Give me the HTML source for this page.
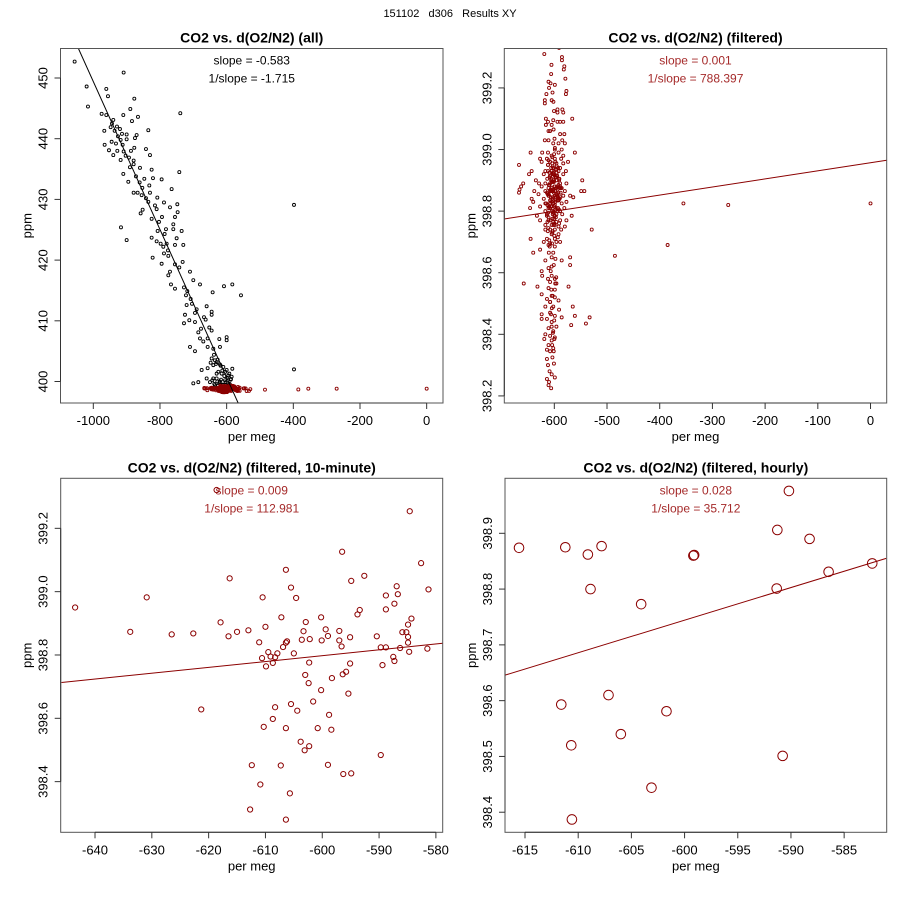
<!DOCTYPE html>
<html><head><meta charset="utf-8"><style>
html,body{margin:0;padding:0;background:#fff;}
svg{display:block;font-family:"Liberation Sans",Arial,sans-serif;}
</style></head><body>
<svg id="chart" width="900" height="900" viewBox="0 0 900 900" xmlns="http://www.w3.org/2000/svg">
<rect width="900" height="900" fill="#fff"/>
<text x="450" y="17" font-size="11" text-anchor="middle" fill="#000" xml:space="preserve">151102   d306   Results XY</text>
</svg>
<script>
// ---------- Panel 1 (all data, black) ----------
const allX = [-1056,-909,-1020,-961,-956,-1016,-877,-889,-975,-961,-910,-866,-884,-940,-944,-929,-967,-936,-920,-835,-914,-900,-870,-918,-900,-875,-945,-966,-912,-877,-842,-953,-928,-909,-887,-940,-830,-918,-879,-879,-890,-860,-825,-742,-910,-872,-847,-821,-795,-895,-739,-832,-879,-867,-855,-830,-765,-842,-808,-835,-788,-770,-748,-852,-810,-858,-747,-825,-794,-755,-760,-760,-917,-807,-782,-735,-900,-825,-810,-798,-780,-750,-755,-730,-790,-788,-775,-822,-795,-755,-732,-770,-775,-710,-700,-680,-767,-755,-728,-608,-583,-642,-557,-722,-708,-720,-660,-645,-695,-725,-645,-712,-695,-728,-663,-677,-645,-685,-680,-657,-670,-622,-600,-710,-657,-695,-640,-620,-600,-645,-635,-630,-640,-620,-610,-657,-583,-600,-675,-630,-615,-595,-585,-700,-685,-660,-630,-620,-605,-398,-398,-640,
-926,-948,-903,-893,-932,-861,-853,-815,-803,-786,-776,-742,-718,-704,-690,-668,-652,-648,-638,-632,-627,-625,-618,-613,-607,-604,-598,-592,-588,-650,-643,-637,-628,-622,-617,-612,-603,-596,-591,-587,-635,-626,-619,-611,-602,-594,-589];
const allY = [452.7,450.9,448.6,448.2,447.0,445.3,446.6,444.9,444.1,443.9,443.9,443.6,442.9,443.1,442.5,442.0,441.3,441.3,441.6,441.4,440.8,440.7,440.6,439.8,439.9,440.1,439.5,439.0,439.0,438.5,438.3,438.1,438.0,437.9,438.0,437.3,437.3,436.5,436.4,435.8,435.3,435.2,434.9,434.5,434.2,433.8,433.4,433.5,433.3,432.9,444.2,432.3,431.1,431.1,430.7,431.1,431.7,430.2,430.3,429.6,429.5,428.7,429.2,428.3,428.4,427.7,427.9,426.8,427.1,427.1,425.9,425.1,425.4,424.8,425.1,424.8,423.3,423.7,423.1,422.7,422.7,423.6,422.5,422.5,422.2,421.1,420.7,420.4,419.4,419.3,419.7,418.1,417.5,418.1,416.7,416.0,416.0,415.3,415.5,415.7,416.0,414.7,414.2,414.2,413.6,412.6,412.4,411.5,411.3,411.0,411.0,410.1,409.8,409.6,410.2,408.7,408.4,408.1,407.1,407.1,406.6,407.0,407.3,405.7,405.7,405.0,405.4,405.7,406.8,403.8,403.5,403.2,402.7,402.8,402.4,402.2,402.1,401.9,401.9,401.3,401.3,401.0,400.8,399.7,399.9,400.5,400.5,400.0,400.2,429.1,402.0,400.5,
440.4,441.9,437.2,436.9,439.2,432.8,431.9,429.0,426.3,424.3,421.6,418.8,414.9,412.8,411.9,410.6,408.9,403.1,404.4,402.9,403.6,401.6,402.6,401.8,400.9,401.6,400.6,401.3,400.3,399.9,400.2,399.6,400.0,399.8,400.3,399.5,399.9,399.7,399.6,400.4,399.4,399.3,399.5,399.4,399.5,399.3,399.4];
const p1LineX = [-1045,-565];
const p1LineY = [454.9,396.4];
const p1XTicks = [-1000,-800,-600,-400,-200,0];
const p1YTicks = [400,410,420,430,440,450];

// ---------- Panel 2 (filtered) ----------
const filtX = [-591,-619,-585.5,-585.5,-581,-582,-611,-599,-579,-610,-577,-578,-615,-618,-605,-618,-594,-584.7,-594,-583,-616,-612,-594,-566,-589,-583,-616,-605,-608,-611,-589,-581,-618,-611,-602,-592,-585,-580,-645,-599,-586,-561,-623,-612,-605,-592,-583,-627,-614,-599,-587,-667,-624,-608,-596,-583,-574,-612,-602,-589,-643,-617,-605,-592,-578,-648,-620,-608,-596,-583,-635,-547,-629,-617,-602,-589,-577,-659,-663,-624,-611,-599,-586,-666,-638,-617,-605,-592,-580,-667,-630,-611,-599,-583,-570,-549,-543,-643,-620,-608,-592,-577,-564,-640,-617,-602,-586,-627,-611,-596,-581,-646,-617,-605,-589,-614,-599,-585,-567,-633,-627,-611,-602,-589,-577,-617,-605,-592,-580,-608,-599,-587,-529,-617,-605,-592,-614,-599,-645,-589,-620,-608,-611,-599,-627,-640,-602,-485,-605,-586,-570,-617,-605,-611,-570,-624,-623,-605,-599,-612,-608,-596,-658,-632,-573,-611,-599,-624,-605,-599,-614,-608,-592,-602,-565,-617,-591,-608,-624,-599,-586,-561,-533,-624,-614,-605,-540,-568,-611,-596,-602,-617,-608,-599,-619,-605,-611,-602,-614,-608,-614,-612,-609,-605,-599,-614,-610,-611,-606,-385,-355,-270,0,
-612,-609,-606,-603,-600,-597,-594,-591,-588,-614,-610,-607,-604,-601,-598,-595,-592,-589,-613,-608,-605,-602,-599,-596,-593,-590,-611,-607,-603,-600,-597,-594,-591,-612,-606,-601,-598,-595,-593,-604,-600,-596,-608,-603,-598,-594,
-613.4,-610.2,-607.7,-604.9,-601.3,-598.6,-595.8,-593.1,-590.4,-587.9,-612.6,-609.3,-606.1,-603.7,-600.8,-597.4,-594.6,-591.9,-588.7,-615.2,-611.8,-608.5,-605.6,-602.7,-599.5,-596.9,-593.8,-590.9,-614.1,-610.7,-607.3,-604.2,-601.9,-598.1,-595.2,-592.4,-589.6,-613.0,-609.8,-606.6,-603.3,-600.1,-597.7,-594.0,-591.3,-611.4,-608.0,-605.1,-602.2,-599.0,-596.2,-593.5,-612.2,-609.0,-605.9,-603.0,-599.8,-596.6,-593.3,-610.9,-607.5,-604.6,-601.6,-598.4,-595.5,-609.6,-606.4,-603.5,-600.4,-597.2,-608.8,-605.3,-602.5,-599.3,-596.0,-610.4,-607.1,-604.0,-600.9,-597.9,-603.8,-601.0,-598.9,-606.8,-602.9,-599.6,-596.4,-604.4,-601.4,-598.2,-605.7,-602.0,-603.1,-600.6,-607.9,-604.7,-601.7,-606.3,-603.4,-600.2,-605.0,-602.6,-599.9,-607.2,-604.1,-601.1,-606.0,-603.6,-600.7,-605.4];
const filtY = [399.33,399.31,399.30,399.29,399.27,399.26,399.22,399.21,399.23,399.20,399.19,399.18,399.18,399.16,399.16,399.15,399.13,399.13,399.12,399.12,399.10,399.09,399.09,399.10,399.09,399.09,399.08,399.08,399.06,399.06,399.05,399.05,399.03,399.03,399.02,399.02,399.03,399.02,398.99,399.00,399.00,398.99,398.99,398.99,398.98,398.99,398.98,398.97,398.97,398.97,398.97,398.95,398.96,398.96,398.955,398.955,398.96,398.95,398.94,398.94,398.93,398.93,398.93,398.93,398.93,398.92,398.92,398.915,398.915,398.92,398.90,398.90,398.89,398.89,398.90,398.89,398.89,398.89,398.88,398.88,398.875,398.88,398.875,398.87,398.865,398.865,398.865,398.86,398.865,398.86,398.855,398.85,398.85,398.85,398.85,398.865,398.865,398.84,398.84,398.835,398.835,398.83,398.845,398.83,398.825,398.825,398.825,398.815,398.81,398.81,398.81,398.81,398.80,398.80,398.80,398.79,398.785,398.79,398.785,398.785,398.77,398.77,398.765,398.77,398.77,398.755,398.755,398.75,398.75,398.74,398.74,398.74,398.74,398.74,398.725,398.725,398.71,398.71,398.71,398.70,398.70,398.695,398.69,398.685,398.675,398.665,398.665,398.655,398.65,398.64,398.65,398.64,398.62,398.615,398.625,398.605,398.59,398.59,398.58,398.58,398.57,398.565,398.565,398.555,398.555,398.55,398.545,398.53,398.525,398.52,398.515,398.505,398.51,398.49,398.49,398.49,398.48,398.47,398.465,398.46,398.455,398.46,398.455,398.45,398.45,398.44,398.435,398.43,398.42,398.425,398.41,398.40,398.395,398.39,398.385,398.38,398.365,398.355,398.35,398.345,398.32,398.30,398.28,398.27,398.26,398.255,398.245,398.235,398.225,398.69,398.825,398.82,398.825,
398.93,398.91,398.90,398.92,398.88,398.91,398.87,398.90,398.86,398.86,398.85,398.87,398.84,398.86,398.83,398.85,398.84,398.88,398.82,398.81,398.83,398.80,398.82,398.79,398.81,398.84,398.78,398.77,398.79,398.76,398.78,398.80,398.76,398.95,398.94,398.92,398.96,398.90,398.94,398.73,398.72,398.70,398.89,398.87,398.91,398.88,
398.905,398.885,398.915,398.875,398.895,398.865,398.935,398.845,398.905,398.875,398.855,398.925,398.815,398.865,398.895,398.835,398.915,398.885,398.845,398.825,398.795,398.865,398.905,398.845,398.815,398.875,398.835,398.905,398.785,398.855,398.825,398.895,398.865,398.805,398.945,398.835,398.875,398.765,398.815,398.845,398.895,398.775,398.935,398.855,398.805,398.745,398.825,398.865,398.795,398.915,398.765,398.835,398.735,398.885,398.815,398.945,398.785,398.855,398.715,398.965,398.835,398.895,398.755,398.805,398.925,398.705,398.865,398.775,398.985,398.845,398.685,398.815,398.925,398.755,398.875,398.665,398.835,398.955,398.795,398.645,398.975,398.625,399.005,398.605,398.735,399.035,398.585,398.695,399.065,398.565,398.545,399.095,398.525,399.125,398.505,398.485,399.155,398.465,399.185,398.445,398.425,398.405,398.385,399.215,398.365,398.345,399.245,398.325,398.305,399.275];
const p2LineX = [-693.7,30.7];
const p2LineY = [398.775,398.965];
const p2XTicks = [-600,-500,-400,-300,-200,-100,0];
const p2YTicks = [398.2,398.4,398.6,398.8,399.0,399.2];

// ---------- Panel 3 (10-minute) ----------
const tenX = [-643.5,-633.8,-630.9,-626.5,-622.7,-621.3,-617.9,-616.3,-616.5,-615.0,-613.0,-611.1,-610.5,-610.0,-610.6,-609.9,-609.5,-609.1,-608.7,-608.3,-607.9,-607.2,-606.9,-606.4,-606.2,-606.4,-605.5,-604.6,-605.0,-603.6,-603.3,-602.9,-602.2,-602.3,-603.0,-602.4,-600.2,-600.1,-599.4,-599.0,-600.2,-601.6,-604.4,-605.5,-608.3,-608.7,-610.3,-606.4,-600.8,-598.8,-598.4,-598.3,-597.0,-597.0,-596.6,-596.5,-594.9,-595.1,-595.1,-595.8,-596.4,-595.4,-593.8,-593.4,-592.6,-590.4,-589.7,-588.8,-589.4,-588.8,-588.8,-587.3,-586.9,-586.7,-587.5,-587.3,-586.3,-585.9,-585.2,-584.9,-584.3,-584.9,-584.9,-584.7,-582.6,-581.3,-581.5,-584.6,-589.7,-603.8,-603.1,-602.3,-599.0,-596.3,-594.9,-607.3,-612.4,-610.9,-605.7,-612.7,-606.4,-618.6];
const tenY = [398.95,398.873,398.982,398.865,398.868,398.628,398.903,399.042,398.859,398.873,398.878,398.84,398.982,398.889,398.79,398.764,398.809,398.795,398.775,398.793,398.805,398.919,398.825,398.839,398.843,399.069,399.013,398.98,398.805,398.848,398.875,398.904,398.85,398.776,398.737,398.711,398.919,398.846,398.881,398.86,398.689,398.653,398.624,398.645,398.635,398.598,398.573,398.569,398.569,398.611,398.564,398.727,398.876,398.846,398.827,399.126,399.034,398.856,398.773,398.747,398.739,398.678,398.928,398.942,399.05,398.859,398.824,398.824,398.768,398.988,398.944,398.962,399.017,398.992,398.794,398.781,398.822,398.872,398.872,398.896,398.915,398.857,398.839,398.81,399.09,399.007,398.82,399.254,398.484,398.526,398.499,398.512,398.453,398.424,398.426,398.451,398.452,398.391,398.363,398.312,398.28,399.321];
const p3LineX = [-645.9,-578.8];
const p3LineY = [398.713,398.837];
const p3XTicks = [-640,-630,-620,-610,-600,-590,-580];
const p3YTicks = [398.4,398.6,398.8,399.0,399.2];

// ---------- Panel 4 (hourly) ----------
const hourX = [-615.56,-611.21,-609.09,-607.80,-608.84,-604.08,-599.10,-599.17,-591.28,-590.19,-588.25,-591.34,-586.46,-582.36,-611.59,-607.15,-601.70,-610.65,-605.99,-590.78,-603.11,-610.59];
const hourY = [398.874,398.875,398.862,398.877,398.800,398.773,398.861,398.860,398.906,398.976,398.890,398.801,398.831,398.846,398.593,398.610,398.581,398.520,398.540,398.501,398.444,398.387];
const p4LineX = [-617,-581.05];
const p4LineY = [398.645,398.855];
const p4XTicks = [-615,-610,-605,-600,-595,-590,-585];
const p4YTicks = [398.4,398.5,398.6,398.7,398.8,398.9];

const NS = 'http://www.w3.org/2000/svg';
const svg = document.getElementById('chart');
function mk(tag, attrs, parent) {
  const e = document.createElementNS(NS, tag);
  for (const k in attrs) e.setAttribute(k, attrs[k]);
  (parent || svg).appendChild(e);
  return e;
}
const RED = '#8b0000', TXT = '#a52a2a';

function panel(cfg) {
  const g = mk('g', {});
  
  
  const sx = v => cfg.L + (v - cfg.x0) / (cfg.x1 - cfg.x0) * (cfg.R - cfg.L);
  const sy = v => cfg.B - (v - cfg.y0) / (cfg.y1 - cfg.y0) * (cfg.B - cfg.T);
  const cid = 'clip-' + cfg.name;
  const cp = mk('clipPath', {id: cid}, g);
  mk('rect', {x: cfg.L, y: cfg.T, width: cfg.R - cfg.L, height: cfg.B - cfg.T}, cp);
  const t = mk('text', {x: (cfg.L + cfg.R) / 2, y: cfg.T - 6, 'font-size': 14, 'font-weight': 'bold', 'text-anchor': 'middle'}, g);
  t.textContent = cfg.title;
  
  
  const s1 = mk('text', {x: (cfg.L + cfg.R) / 2, y: cfg.T + 16, 'font-size': 12, 'text-anchor': 'middle', fill: cfg.txt}, g);
  s1.textContent = cfg.s1;
  
  
  const s2 = mk('text', {x: (cfg.L + cfg.R) / 2, y: cfg.T + 34, 'font-size': 12, 'text-anchor': 'middle', fill: cfg.txt}, g);
  s2.textContent = cfg.s2;
  
  
  const pts = mk('g', {'clip-path': 'url(#' + cid + ')', fill: 'none'}, g);
  
  
  cfg.series.forEach(se => {
    for (let i = 0; i < se.x.length; i++) {
      const c = mk('circle', {cx: sx(se.x[i]).toFixed(2), cy: sy(se.y[i]).toFixed(2), r: cfg.r, stroke: se.color, 'stroke-width': cfg.sw}, pts);
      
      
    }
  });
  const ln = mk('line', {x1: sx(cfg.lx[0]), y1: sy(cfg.ly[0]), x2: sx(cfg.lx[1]), y2: sy(cfg.ly[1]), stroke: cfg.lineColor, 'stroke-width': 1, 'clip-path': 'url(#' + cid + ')'}, g);
  
  
  const bx = mk('rect', {x: cfg.L, y: cfg.T, width: cfg.R - cfg.L, height: cfg.B - cfg.T, fill: 'none', stroke: '#555', 'stroke-width': 1}, g);
  
  
  const xa = mk('g', {}, g);
  
  
  cfg.xt.forEach(v => {
    const x = sx(v);
    mk('line', {x1: x, y1: cfg.B, x2: x, y2: cfg.B + 6, stroke: '#333'}, xa);
    const tl = mk('text', {x: x, y: cfg.B + 22, 'font-size': 13, 'text-anchor': 'middle'}, xa);
    tl.textContent = String(v);
    
    
  });
  mk('line', {x1: sx(cfg.xt[0]), y1: cfg.B, x2: sx(cfg.xt[cfg.xt.length - 1]), y2: cfg.B, stroke: '#333'}, xa);
  const xl = mk('text', {x: (cfg.L + cfg.R) / 2, y: cfg.B + 38, 'font-size': 13, 'text-anchor': 'middle'}, g);
  xl.textContent = 'per meg';
  
  
  const ya = mk('g', {}, g);
  
  
  cfg.yt.forEach(v => {
    const y = sy(v);
    mk('line', {x1: cfg.L, y1: y, x2: cfg.L - 6, y2: y, stroke: '#333'}, ya);
    const tl = mk('text', {x: 0, y: 0, 'font-size': 13, 'text-anchor': 'middle', transform: 'translate(' + (cfg.L - 13) + ',' + y + ') rotate(-90)'}, ya);
    tl.textContent = cfg.yfmt(v);
    
    
  });
  mk('line', {x1: cfg.L, y1: sy(cfg.yt[0]), x2: cfg.L, y2: sy(cfg.yt[cfg.yt.length - 1]), stroke: '#333'}, ya);
  const yl = mk('text', {x: 0, y: 0, 'font-size': 13, 'text-anchor': 'middle', transform: 'translate(' + (cfg.L - 29) + ',' + ((cfg.T + cfg.B) / 2) + ') rotate(-90)'}, g);
  yl.textContent = 'ppm';
  
  
}

panel({name: 'panel-all', title: 'CO2 vs. d(O2/N2) (all)', s1: 'slope = -0.583', s2: '1/slope = -1.715', txt: '#000',
  L: 60.5, R: 443, T: 48.5, B: 403, x0: -1098.4, x1: 49, y0: 396.46, y1: 454.86, r: 1.5, sw: 0.9,
  series: [{x: allX, y: allY, color: '#000'}, {x: filtX, y: filtY, color: RED}],
  lx: p1LineX, ly: p1LineY, lineColor: '#000', xt: p1XTicks, yt: p1YTicks, yfmt: v => String(v)});
panel({name: 'panel-filtered', title: 'CO2 vs. d(O2/N2) (filtered)', s1: 'slope = 0.001', s2: '1/slope = 788.397', txt: TXT,
  L: 504.3, R: 886.7, T: 48.5, B: 403, x0: -694.9, x1: 30.7, y0: 398.177, y1: 399.328, r: 1.5, sw: 0.9,
  series: [{x: filtX, y: filtY, color: RED}],
  lx: p2LineX, ly: p2LineY, lineColor: RED, xt: p2XTicks, yt: p2YTicks, yfmt: v => v.toFixed(1)});
panel({name: 'panel-10-minute', title: 'CO2 vs. d(O2/N2) (filtered, 10-minute)', s1: 'slope = 0.009', s2: '1/slope = 112.981', txt: TXT,
  L: 60.7, R: 442.7, T: 478.3, B: 832.3, x0: -646.04, x1: -578.8, y0: 398.24, y1: 399.358, r: 2.6, sw: 1,
  series: [{x: tenX, y: tenY, color: RED}],
  lx: p3LineX, ly: p3LineY, lineColor: RED, xt: p3XTicks, yt: p3YTicks, yfmt: v => v.toFixed(1)});
panel({name: 'panel-hourly', title: 'CO2 vs. d(O2/N2) (filtered, hourly)', s1: 'slope = 0.028', s2: '1/slope = 35.712', txt: TXT,
  L: 505, R: 886.7, T: 478.3, B: 832.3, x0: -616.88, x1: -581.0, y0: 398.364, y1: 398.9986, r: 4.8, sw: 1,
  series: [{x: hourX, y: hourY, color: RED}],
  lx: p4LineX, ly: p4LineY, lineColor: RED, xt: p4XTicks, yt: p4YTicks, yfmt: v => v.toFixed(1)});
</script>
</body></html>
